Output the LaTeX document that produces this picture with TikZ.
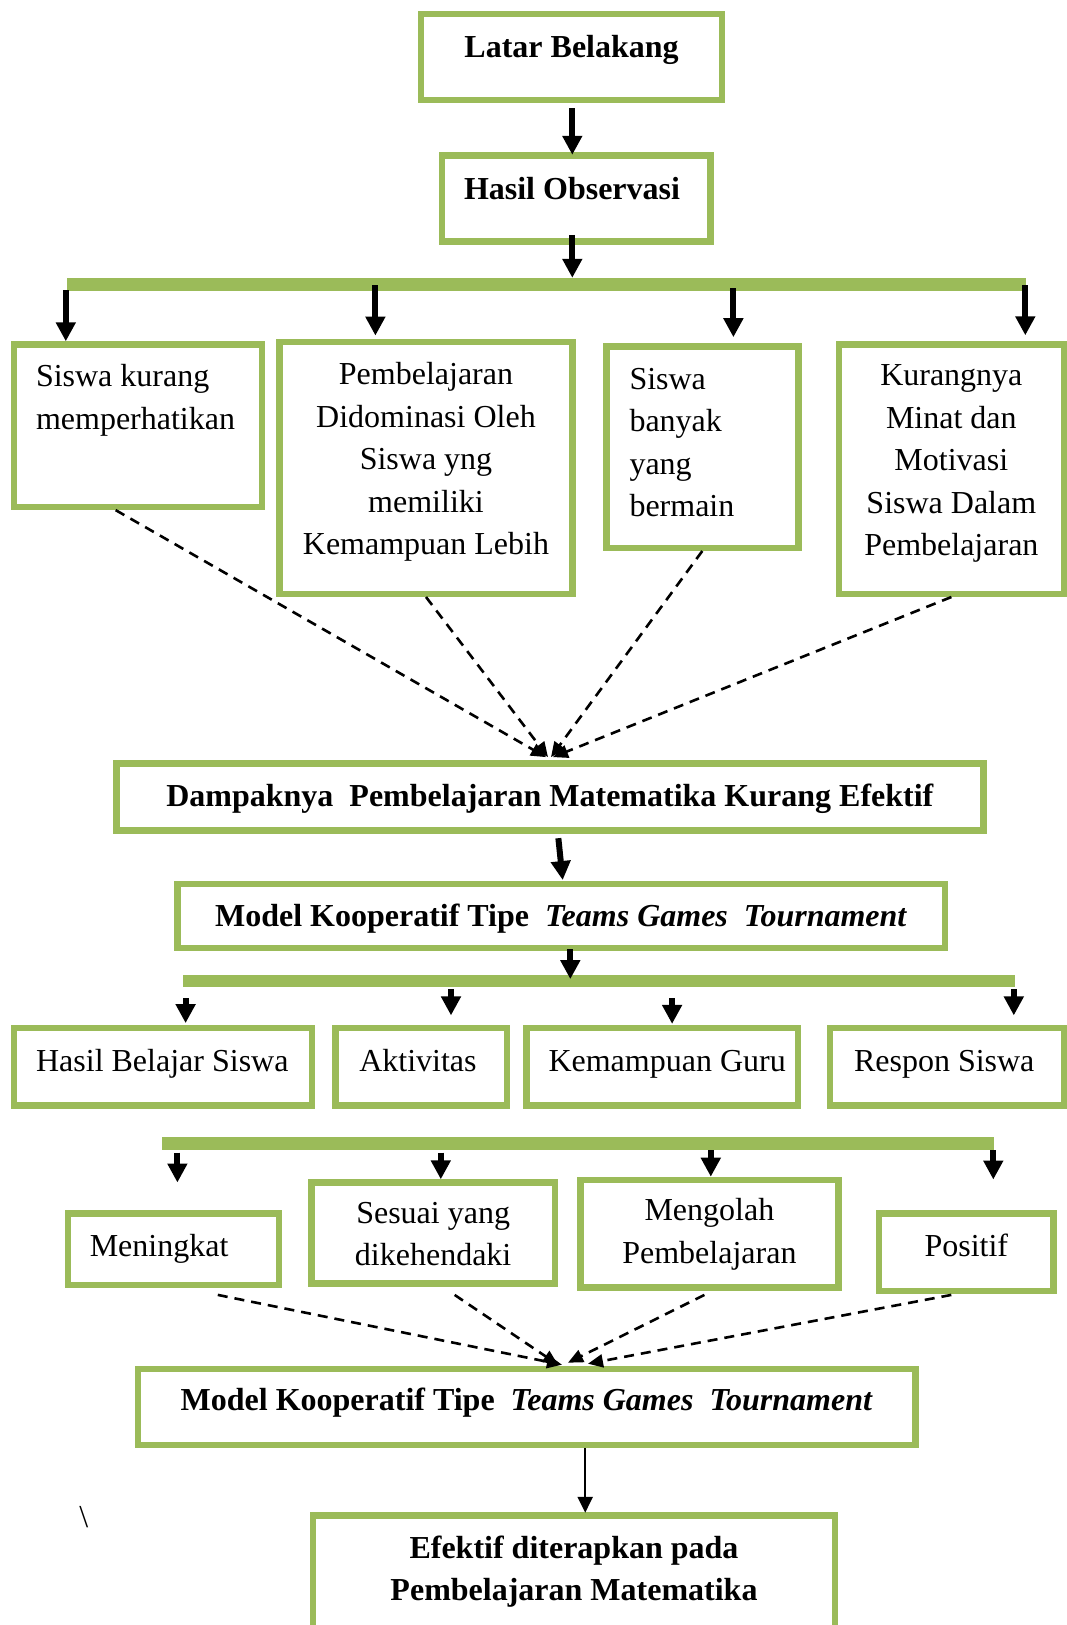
\documentclass[tikz,border=0pt]{standalone}
\usepackage{fontspec}
\setmainfont{Liberation Serif}
\usetikzlibrary{arrows.meta,calc}
\definecolor{leaf}{RGB}{155,187,89}
\newcommand\boxfont{\fontsize{32}{42.5}\selectfont\parindent=0pt}
% fixed-height / fixed-depth struts that set the vertical placement of box text
\newcommand\upstrut[1]{\rule{0pt}{#1pt}}
\newcommand\downstrut[1]{\rule[-#1pt]{0pt}{#1pt}}

\begin{document}
\begin{tikzpicture}[x=1pt,y=-1pt,
  box/.style={draw=leaf, line width=6.5pt, inner sep=0pt, align=center, font=\boxfont},
  bbox/.style={box, font=\boxfont\bfseries},
  lbox/.style={box, align=flush left},
  bar/.style={fill=leaf, draw=none, inner sep=0pt},
  arrow/.style={-{Triangle[width=19pt,length=19pt]}, line width=6pt},
  thinarrow/.style={-{Triangle[width=15pt,length=16pt]}, line width=2.5pt},
  dasharrow/.style={-{Triangle[width=13pt,length=15pt]}, line width=2.6pt, dash pattern=on 10pt off 7pt},
]
\useasboundingbox (0,0) rectangle (1067,1625);
\clip (0,0) rectangle (1067,1625);
\fill[white] (0,0) rectangle (1067,1625);

% ---- top chain
\node[bbox, minimum width=301.1pt, minimum height=86.1pt] (latar) at (571.6,57)
  {\upstrut{29}Latar Belakang\downstrut{28.2}};
\node[bbox, align=flush left, text width=224.8pt, minimum width=268.5pt, minimum height=86.1pt] (hasil) at (576.4,198.6)
  {\upstrut{29}\mbox{Hasil Observasi}\downstrut{28.2}};
\node[bar, minimum width=959.5pt, minimum height=12.5pt] (bar1) at (546.45,284.25) {};

% ---- observed problems
\node[lbox, text width=204.3pt, minimum width=248pt, minimum height=162.3pt] (b1) at (138.15,425.7)
  {\upstrut{29}Siswa kurang\\memperhatikan\downstrut{64.6}};
\node[box, minimum width=292.9pt, minimum height=251.9pt] (b2) at (426,467.8)
  {\upstrut{29}Pembelajaran\\Didominasi Oleh\\Siswa yng\\memiliki\\Kemampuan Lebih\downstrut{25.1}};
\node[lbox, text width=145.6pt, minimum width=192.1pt, minimum height=201.3pt] (b3) at (702.3,447.1)
  {\upstrut{29}Siswa\\banyak\\yang\\bermain\downstrut{17.1}};
\node[box, minimum width=224.8pt, minimum height=249.2pt] (b4) at (951.35,469.15)
  {\upstrut{29}Kurangnya\\Minat dan\\Motivasi\\Siswa Dalam\\Pembelajaran\downstrut{25.9}};

\node[bbox, minimum width=867.2pt, minimum height=67pt] (damp) at (549.85,797.15)
  {\upstrut{29}Dampaknya\ \ Pembelajaran Matematika Kurang Efektif\downstrut{9.7}};
\node[bbox, minimum width=767.3pt, minimum height=64.2pt] (model1) at (561.1,916)
  {\upstrut{29}Model Kooperatif Tipe\ \ \textit{Teams Games\ \ Tournament}\downstrut{8.2}};
\node[bar, minimum width=832pt, minimum height=12.3pt] (bar2) at (599.3,981.15) {};

% ---- aspects
\node[lbox, text width=253.7pt, minimum width=297.6pt, minimum height=77.5pt] (r1) at (162.95,1066.6)
  {\upstrut{29}\mbox{Hasil Belajar Siswa}\downstrut{20.2}};
\node[lbox, text width=123.8pt, minimum width=171.9pt, minimum height=77.5pt] (r2) at (421.2,1066.6)
  {\upstrut{29}Aktivitas\downstrut{20.2}};
\node[lbox, text width=227.3pt, minimum width=271.2pt, minimum height=77.5pt] (r3) at (662.15,1066.6)
  {\upstrut{29}\mbox{Kemampuan Guru}\downstrut{20.2}};
\node[lbox, text width=185.8pt, minimum width=233.7pt, minimum height=77.5pt] (r4) at (946.9,1066.6)
  {\upstrut{29}\mbox{Respon Siswa}\downstrut{20.2}};
\node[bar, minimum width=831.5pt, minimum height=13pt] (bar3) at (577.75,1143.7) {};

% ---- expected outcomes
\node[lbox, text width=167.4pt, minimum width=211.3pt, minimum height=71.8pt] (s1) at (173.5,1249.15)
  {\upstrut{29}Meningkat\downstrut{15.3}};
\node[box, minimum width=243.2pt, minimum height=100.9pt] (s2) at (433.15,1233)
  {\upstrut{30.3}Sesuai yang\\dikehendaki\downstrut{7}};
\node[box, minimum width=258.3pt, minimum height=107.5pt] (s3) at (709.4,1233.7)
  {\upstrut{29}Mengolah\\Pembelajaran\downstrut{12.4}};
\node[box, minimum width=174.5pt, minimum height=77.5pt] (s4) at (966.3,1252)
  {\upstrut{29}Positif\downstrut{21}};

\node[bbox, minimum width=777.5pt, minimum height=76.1pt] (model2) at (526.7,1407)
  {\upstrut{29}Model Kooperatif Tipe\ \ \textit{Teams Games\ \ Tournament}\downstrut{23}};
\node[bbox, minimum width=522.3pt, minimum height=131.5pt] (efektif) at (574,1581)
  {\upstrut{29}Efektif diterapkan pada\\Pembelajaran Matematika\downstrut{31.7}};

\node[font=\boxfont, inner sep=0pt] (slash) at (83.7,1516.6) {\textbackslash};

% ---- solid connectors
\coordinate (lo) at ($(latar.south)+(0.7,5)$);
\draw[arrow] (lo) -- ($(lo |- hasil.north)+(0,2.5)$);
\coordinate (ho) at ($(hasil.south)+(-4.1,-10)$);
\draw[arrow] (ho) -- (ho |- bar1.north);

\coordinate (u1) at ($(bar1.south west)+(-0.7,-0.5)$);
\coordinate (u2) at ($(bar1.south west)+(308.9,-5.5)$);
\coordinate (u3) at ($(bar1.south west)+(666.9,-2.7)$);
\coordinate (u4) at ($(bar1.south west)+(958.8,-5.5)$);
\draw[arrow] (u1) -- (u1 |- b1.north);
\draw[arrow] (u2) -- ($(u2 |- b2.north)+(0,-3)$);
\draw[arrow] (u3) -- ($(u3 |- b3.north)+(0,-6)$);
\draw[arrow] (u4) -- ($(u4 |- b4.north)+(0,-6)$);

\draw[arrow] ($(damp.south)+(8.5,4.3)$) -- ($(model1.north)+(1.6,-0.6)$);
\coordinate (m1o) at ($(model1.south)+(9.2,-2.15)$);
\draw[arrow] (m1o) -- ($(m1o |- bar2.north)+(0,4.3)$);

\coordinate (v1) at ($(bar2.south west)+(2.5,10.6)$);
\coordinate (v2) at ($(bar2.south west)+(267.9,1.6)$);
\coordinate (v3) at ($(bar2.south west)+(489,10.6)$);
\coordinate (v4) at ($(bar2.south west)+(830.7,1.6)$);
\draw[arrow] (v1) -- ($(v1 |- r1.north)+(0,-1.5)$);
\draw[arrow] (v2) -- ($(v2 |- r2.north)+(0,-9.2)$);
\draw[arrow] (v3) -- ($(v3 |- r3.north)+(0,-0.7)$);
\draw[arrow] (v4) -- ($(v4 |- r4.north)+(0,-9.2)$);

\coordinate (w1) at ($(bar3.south west)+(15.6,2.1)$);
\coordinate (w2) at ($(bar3.south west)+(279,2.1)$);
\coordinate (w3) at ($(bar3.south west)+(549,-0.2)$);
\coordinate (w4) at ($(bar3.south west)+(831.5,-0.2)$);
\coordinate (w1e) at ($(w1)+(0,30)$);
\coordinate (w4e) at ($(w4)+(0,29.3)$);
\draw[arrow] (w1) -- (w1e);
\draw[arrow] (w2) -- (w2 |- s2.north);
\draw[arrow] (w3) -- (w3 |- s3.north);
\draw[arrow] (w4) -- (w4e);

\coordinate (m2o) at ($(model2.south)+(58.5,-0.05)$);
\draw[thinarrow] (m2o) -- ($(m2o |- efektif.north)+(0,0.75)$);

% ---- dashed connectors
\draw[dasharrow] ($(b1.south)+(-22.5,0)$) -- ($(damp.north)+(-3.85,-3.3)$);
\draw[dasharrow] (b2.south) -- ($(damp.north)+(-1.85,-3.3)$);
\draw[dasharrow] (b3.south) -- ($(damp.north)+(1.15,-3.3)$);
\draw[dasharrow] (b4.south) -- ($(damp.north)+(3.15,-3.3)$);

\draw[dasharrow] ($(s1.south)+(44.3,6.6)$) -- ($(model2.north)+(35.3,-1)$);
\draw[dasharrow] ($(s2.south)+(21.5,8.2)$) -- ($(model2.north)+(31.3,-1)$);
\draw[dasharrow] ($(s3.south)+(-5,4.2)$) -- ($(model2.north)+(41.3,-3)$);
\draw[dasharrow] ($(s4.south)+(-15,0.9)$) -- ($(model2.north)+(61.3,-2)$);
\end{tikzpicture}
\end{document}
